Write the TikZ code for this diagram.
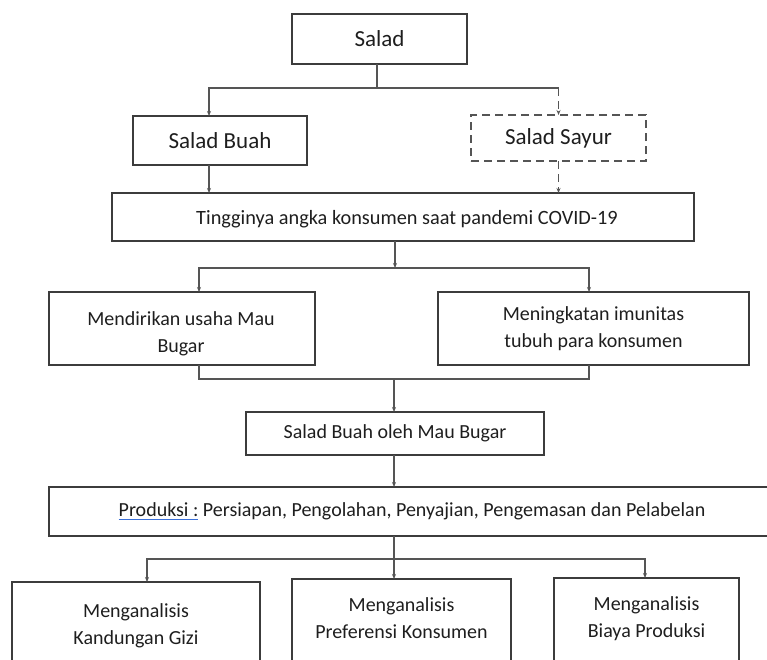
\documentclass[tikz,border=0pt]{standalone}
\usepackage{fontspec}
\setmainfont{Carlito}
\usetikzlibrary{arrows.meta}
\definecolor{boxc}{HTML}{3C3C3C}
\definecolor{linec}{HTML}{555555}
\definecolor{txtc}{HTML}{1E1E1E}
\definecolor{ulc}{HTML}{3A6FD8}
\newsavebox\ulbox
\newcommand\bluul[1]{\sbox\ulbox{#1}\rlap{\color{ulc}\rule[-3pt]{\wd\ulbox}{0.9pt}}\usebox\ulbox}
\begin{document}
\begin{tikzpicture}[x=1pt,y=-1pt,
  box/.style={draw=boxc, line width=1.6pt, inner sep=0pt, outer sep=0pt, text=txtc, align=center},
  big/.style={font=\fontsize{23}{28}\selectfont},
  body/.style={font=\fontsize{20}{27}\selectfont},
  conn/.style={draw=linec, line width=1.3pt},
  arr/.style={conn, -{Stealth[length=5pt,width=4pt]}},
  dsh/.style={dash pattern=on 8pt off 5pt}]
\useasboundingbox (0,0) rectangle (767,659);
\clip (0,0) rectangle (767,659);

\node[box,big,minimum width=175pt,minimum height=50pt] (salad) at (379.5,39) {Salad};
\node[box,big,minimum width=174pt,minimum height=49pt] (buah) at (220,140.5) {Salad Buah};
\node[box,big,dsh,draw=linec,minimum width=175pt,minimum height=46pt] (sayur) at (558.5,138) {Salad Sayur};
\node[box,minimum width=582pt,minimum height=48pt] (ting) at (403,217) {};
\node[text=txtc,font=\fontsize{20.3}{27}\selectfont] (tingt) at (407,219) {Tingginya angka konsumen saat pandemi COVID-19};
\node[box,body,minimum width=266pt,minimum height=73pt] (mend) at (182,328.5) {};
\node[body,text=txtc,align=center] (mendt) at (181,333.5) {Mendirikan usaha Mau\\Bugar};
\node[box,body,minimum width=311pt,minimum height=73pt] (mening) at (593.5,328.5) {Meningkatan imunitas\\tubuh para konsumen};
\node[box,body,minimum width=298pt,minimum height=43pt] (oleh) at (395,433.5) {Salad Buah oleh Mau Bugar};
\node[box,body,minimum width=726pt,minimum height=49pt] (prod) at (412,511.5) {\bluul{Produksi :} Persiapan, Pengolahan, Penyajian, Pengemasan dan Pelabelan};

\node[box,minimum width=248pt,minimum height=120pt,anchor=north] (k1) at (136,582) {};
\node[body,text=txtc,align=center] (k1t) at (136,625.5) {Menganalisis\\Kandungan Gizi};
\node[box,minimum width=219pt,minimum height=120pt,anchor=north] (k2) at (401.5,579) {};
\node[body,text=txtc,align=center] (k2t) at (401.5,618.5) {Menganalisis\\Preferensi Konsumen};
\node[box,minimum width=185pt,minimum height=120pt,anchor=north] (k3) at (646.5,578) {};
\node[body,text=txtc,align=center] (k3t) at (646.5,618.5) {Menganalisis\\Biaya Produksi};

% Salad -> Buah / Sayur
\coordinate (j1) at (377,88);
\draw[conn] (salad.south -| j1) -- (j1);
\draw[arr] (j1) -| ([xshift=-11pt]buah.north);
\coordinate (j1r) at (j1 -| sayur.north);
\draw[conn] (j1) -- (j1r);
\draw[arr,dsh] (j1r) -- (sayur.north);

% Buah / Sayur -> Tingginya
\draw[arr] ([xshift=-11pt]buah.south) -- ([xshift=-11pt]buah.south |- ting.north);
\draw[arr,dsh] (sayur.south) -- (sayur.south |- ting.north);

% Tingginya -> two boxes
\coordinate (j2) at (395,268);
\draw[arr] ([xshift=-8pt]ting.south) -- (j2);
\draw[arr] (j2) -| ([xshift=17pt]mend.north);
\draw[arr] (j2) -| ([xshift=-4.5pt]mening.north);

% two boxes -> oleh
\coordinate (j3) at (394,379);
\draw[conn] ([xshift=17pt]mend.south) |- (j3);
\draw[conn] ([xshift=-4.5pt]mening.south) |- (j3);
\draw[arr] (j3) -- (j3 |- oleh.north);

% oleh -> produksi
\draw[arr] ([xshift=-1pt]oleh.south) -- ([xshift=-1pt]oleh.south |- prod.north);

% produksi -> three
\coordinate (j4) at (394,559);
\draw[conn] (prod.south -| j4) -- (j4);
\draw[arr] (j4) -| ([xshift=11pt]k1.north);
\draw[arr] (j4) -- (j4 |- k2.north);
\draw[arr] (j4) -| ([xshift=-1.5pt]k3.north);
\end{tikzpicture}
\end{document}
